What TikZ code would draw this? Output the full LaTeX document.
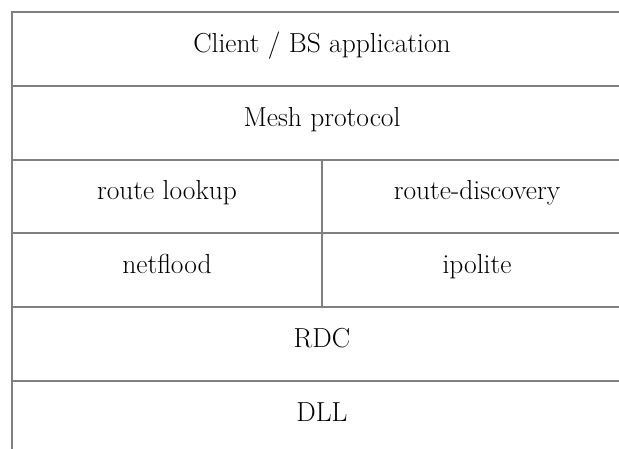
\documentclass[tikz,border=0pt]{standalone}
\begin{document}
\begin{tikzpicture}[x=1pt,y=-1pt,
  cell/.style={draw=black!50,line width=1.1pt,inner sep=0pt,minimum height=74pt,
    text height=10pt,text depth=4pt,font=\fontsize{27.5}{32}\selectfont,text=black},
  wide/.style={cell,minimum width=620pt},
  half/.style={cell,minimum width=310pt}]
\useasboundingbox (0,0) rectangle (619,448);
\clip (0,0) rectangle (619,448);
\node[wide] (app) at (322,49) {Client / BS application};
\node[wide] (mesh) at (322,123) {Mesh protocol};
\node[half] (lookup) at (167,196.5) {route lookup};
\node[half] (disc) at (477,196.5) {route-discovery};
\node[half] (flood) at (167,270) {netflood};
\node[half] (ipol) at (477,270) {ipolite};
\node[wide] (rdc) at (322,344) {RDC};
\node[wide] (dll) at (322,418) {DLL};
\end{tikzpicture}
\end{document}
